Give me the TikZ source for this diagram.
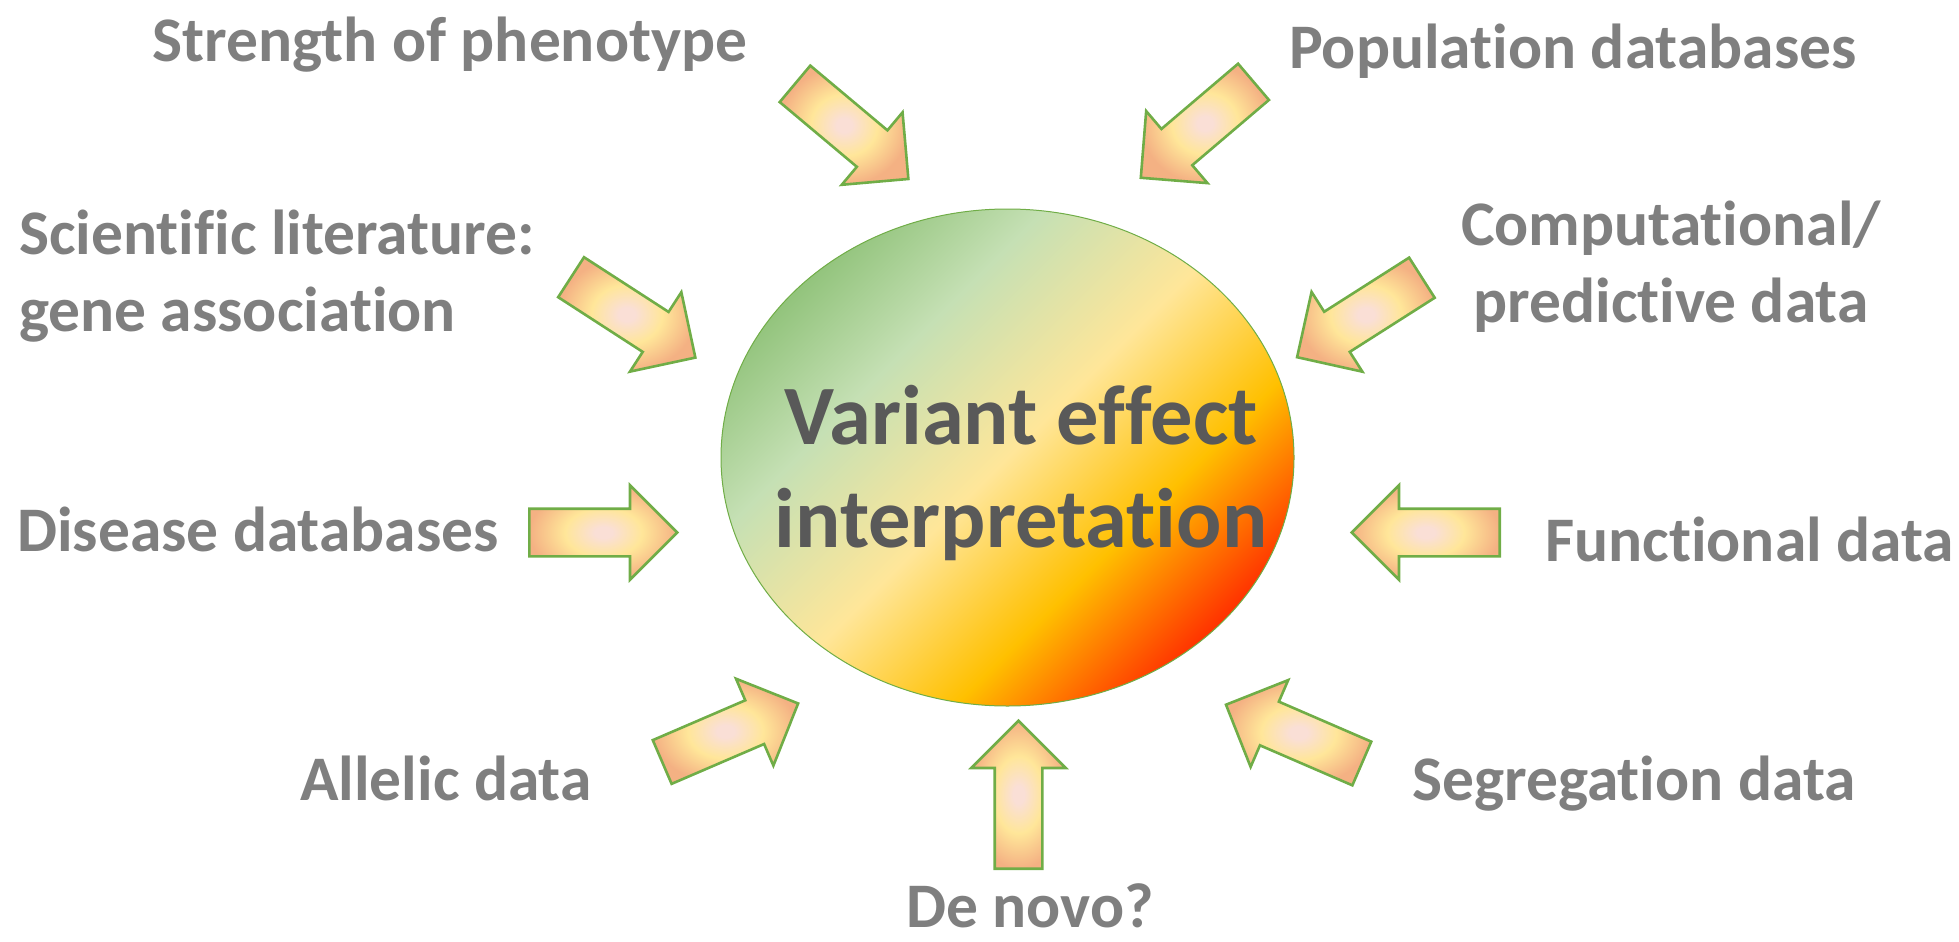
\documentclass[tikz,border=0pt]{standalone}
\usepackage{fontspec}
\setmainfont{Carlito}[Ligatures=NoCommon, RawFeature={-liga,-clig,-calt,-dlig}]
\usetikzlibrary{shapes,arrows,positioning}

\definecolor{rimgreen}{HTML}{70AD47}
\definecolor{labelgray}{HTML}{7F7F7F}
\definecolor{titlegray}{HTML}{595959}
\definecolor{glowpink}{HTML}{FADFD6}
\definecolor{glowyellow}{HTML}{FFE699}
\definecolor{gloworange}{HTML}{F4B183}
\definecolor{hubgreen}{HTML}{93C47D}
\definecolor{hublight}{HTML}{C5E0B4}
\definecolor{hubyellow}{HTML}{FFE699}
\definecolor{hubamber}{HTML}{FFC000}
\definecolor{hubred}{HTML}{FF3300}

\pgfdeclareradialshading{blockglow}{\pgfpoint{0bp}{0bp}}{color(0bp)=(glowpink); color(3bp)=(glowpink); color(13bp)=(glowyellow); color(25bp)=(gloworange); color(50bp)=(gloworange)}
\pgfdeclarehorizontalshading{hubfade}{100bp}{color(0bp)=(hubgreen); color(25bp)=(hubgreen); color(36bp)=(hublight); color(50bp)=(hubyellow); color(63bp)=(hubamber); color(75bp)=(hubred); color(100bp)=(hubred)}

\begin{document}
\begin{tikzpicture}[x=1pt, y=-1pt,
    factor/.style={text=labelgray, font=\fontsize{63.5}{77}\selectfont\bfseries, inner sep=0pt},
    inflow/.style={single arrow, draw=rimgreen, line width=2.6pt, shading=blockglow, minimum height=148pt, single arrow head extend=23.5pt, inner xsep=0pt, inner ysep=22.5pt, anchor=tail},
    hub/.style={ellipse, draw=rimgreen, line width=1pt, shading=hubfade, shading angle=-45, minimum width=573pt, minimum height=497pt, inner sep=0pt}]
    \useasboundingbox (0,0) rectangle (1959,942);

    \node (core) [hub] at (1007.5,457.5) {};
    \node (title) [text=titlegray, font=\fontsize{84.5}{102.5}\selectfont\bfseries, align=center, inner sep=0pt] at (1021,473) {Variant effect\\interpretation};

    % sources round the hub (base = last line)
    \node (strength) [factor, anchor=base west] at (152,62) {Strength of phenotype};
    \node (population) [factor, anchor=base west] at (1289,68) {Population databases};
    \node (literature) [factor, anchor=base west, align=left] at (19,331) {Scientific literature:\\gene association};
    \node (computational) [factor, anchor=base, align=center] at (1671,322) {Computational/\\predictive data};
    \node (disease) [factor, anchor=base west] at (17,551) {Disease databases};
    \node (functional) [factor, anchor=base west] at (1545,561) {Functional data};
    \node (allelic) [factor, anchor=base west] at (300,800) {Allelic data};
    \node (segregation) [factor, anchor=base west] at (1412,800) {Segregation data};
    \node (denovo) [factor, anchor=base] at (1030,927) {De novo?};

    % block arrows, placed by their tails
    \node (in-strength) [inflow, rotate=-40] at (794,83) {};
    \node (in-population) [inflow, rotate=-139.6] at (1254.5,81) {};
    \node (in-literature) [inflow, rotate=-32.9] at (570,276.5) {};
    \node (in-computational) [inflow, rotate=-147.5] at (1423,277) {};
    \node (in-disease) [inflow, rotate=0] at (528,532.5) {};
    \node (in-functional) [inflow, rotate=180] at (1501,532.5) {};
    \node (in-allelic) [inflow, rotate=23.3] at (661,762.5) {};
    \node (in-segregation) [inflow, rotate=156.6] at (1363,764) {};
    \node (in-denovo) [inflow, rotate=90] at (1018.5,870) {};
\end{tikzpicture}
\end{document}
